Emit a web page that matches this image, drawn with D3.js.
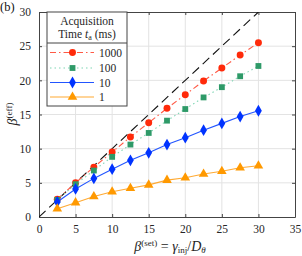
<!DOCTYPE html>
<html>
<head>
<meta charset="utf-8">
<script src="https://cdn.jsdelivr.net/npm/d3@7"></script>
<style>
  body { margin: 0; background: #fff; }
</style>
</head>
<body>
<script>
'use strict';

// beta(set) values, shared by every series
const betaSet = [2.5, 5, 7.5, 10, 12.5, 15, 17.5, 20, 22.5, 25, 27.5, 30];

// beta(eff), one per acquisition time
const eff1000 = [2.6, 5.0, 7.3, 9.5, 11.7, 13.8, 15.9, 17.9, 19.9, 21.8, 23.7, 25.5];
const eff100  = [2.5, 4.8, 6.8, 8.8, 10.6, 12.3, 14.1, 15.8, 17.5, 19.0, 20.6, 22.1];
const eff10   = [2.2, 4.1, 5.65, 7.0, 8.3, 9.4, 10.6, 11.6, 12.7, 13.7, 14.7, 15.55];
const eff1    = [1.2, 2.1, 3.0, 3.7, 4.2, 4.7, 5.4, 5.75, 6.3, 6.7, 7.2, 7.5];

const seriesNames = ['1000', '100', '10', '1'];
const xTicks = [0, 5, 10, 15, 20, 25, 30, 35];
const yTicks = [0, 5, 10, 15, 20, 25, 30];
const diagonal = [0, 30];

const serif = '"Liberation Serif", "Times New Roman", serif';
const width = 302, height = 256;
const margin = { left: 39, right: 7, top: 12, bottom: 39 };

const svg = d3.select('body').append('svg')
  .attr('width', width)
  .attr('height', height)
  .attr('font-family', serif);

const xScale = d3.scaleLinear().domain([0, 35]).range([margin.left, width - margin.right]);
const yScale = d3.scaleLinear().domain([0, 30]).range([height - margin.bottom, margin.top]);

// grid lines
svg.append('g').selectAll('line')
  .data(xTicks.slice(1, -1))
  .enter().append('line')
    .attr('x1', d => xScale(d)).attr('x2', d => xScale(d))
    .attr('y1', yScale(0)).attr('y2', yScale(30))
    .attr('stroke', '#e3e3e3').attr('stroke-width', 1);
svg.append('g').selectAll('line')
  .data(yTicks.slice(1, -1))
  .enter().append('line')
    .attr('y1', d => yScale(d)).attr('y2', d => yScale(d))
    .attr('x1', xScale(0)).attr('x2', xScale(35))
    .attr('stroke', '#e3e3e3').attr('stroke-width', 1);

// axes with ticks on all four sides, pointing inwards
const tickLen = 3;
function styleAxis(g) {
  g.attr('font-family', serif).attr('font-size', 11.5);
  g.selectAll('path').attr('stroke', '#444').attr('stroke-width', 1);
  g.selectAll('line').attr('stroke', '#444');
  g.selectAll('text').attr('fill', '#262626');
}

svg.append('g')
  .attr('transform', `translate(0,${yScale(0)})`)
  .call(d3.axisBottom(xScale).tickValues(xTicks).tickSize(-tickLen).tickPadding(8).tickSizeOuter(0))
  .call(styleAxis);
svg.append('g')
  .attr('transform', `translate(0,${yScale(30)})`)
  .call(d3.axisTop(xScale).tickValues(xTicks).tickSize(-tickLen).tickFormat('').tickSizeOuter(0))
  .call(styleAxis);
svg.append('g')
  .attr('transform', `translate(${xScale(0)},0)`)
  .call(d3.axisLeft(yScale).tickValues(yTicks).tickSize(-tickLen).tickPadding(8).tickSizeOuter(0))
  .call(styleAxis);
svg.append('g')
  .attr('transform', `translate(${xScale(35)},0)`)
  .call(d3.axisRight(yScale).tickValues(yTicks).tickSize(-tickLen).tickFormat('').tickSizeOuter(0))
  .call(styleAxis);

// clip to plot area
svg.append('clipPath').attr('id', 'plotclip')
  .append('rect')
    .attr('x', xScale(0)).attr('y', yScale(30))
    .attr('width', xScale(35) - xScale(0)).attr('height', yScale(0) - yScale(30));

const plot = svg.append('g').attr('clip-path', 'url(#plotclip)');

// y = x reference
plot.append('line')
  .attr('x1', xScale(diagonal[0])).attr('y1', yScale(diagonal[0]))
  .attr('x2', xScale(diagonal[1])).attr('y2', yScale(diagonal[1]))
  .attr('stroke', '#111').attr('stroke-width', 1.1)
  .attr('stroke-dasharray', '9,5');

const series = [
  { name: seriesNames[0], values: eff1000, line: '#ff5a46', marker: '#ff2a0a', dash: '6,3,1.5,3', shape: d3.symbolCircle, size: 38 },
  { name: seriesNames[1], values: eff100, line: '#7fd6b4', marker: '#2e9a68', dash: '1.5,3', shape: d3.symbolSquare, size: 34 },
  { name: seriesNames[2], values: eff10, line: '#2255ff', marker: '#0033ff', dash: null, shape: d3.symbolDiamond, size: 40 },
  { name: seriesNames[3], values: eff1, line: '#ffaa33', marker: '#ff9900', dash: null, shape: d3.symbolTriangle, size: 40 }
];

const line = d3.line()
  .x(d => xScale(d[0]))
  .y(d => yScale(d[1]));

series.forEach(s => {
  const pts = betaSet.map((b, i) => [b, s.values[i]]);
  plot.append('path')
    .datum(pts)
    .attr('fill', 'none')
    .attr('stroke', s.line)
    .attr('stroke-width', 1.1)
    .attr('stroke-dasharray', s.dash)
    .attr('d', line);
  plot.selectAll(null)
    .data(pts)
    .enter().append('path')
      .attr('d', d3.symbol().type(s.shape).size(s.size))
      .attr('transform', d => `translate(${xScale(d[0])},${yScale(d[1])})`)
      .attr('fill', s.marker);
});

// legend
const lg = svg.append('g').attr('fill', '#262626');
const lgX = 47, lgY = 12, lgW = 80, lgH = 94;
lg.append('rect')
  .attr('x', lgX).attr('y', lgY).attr('width', lgW).attr('height', lgH)
  .attr('fill', '#fff').attr('stroke', '#444').attr('stroke-width', 1);
lg.append('line')
  .attr('x1', lgX).attr('x2', lgX + lgW).attr('y1', 43).attr('y2', 43)
  .attr('stroke', '#444');
lg.append('text')
  .attr('x', lgX + lgW / 2).attr('y', 25)
  .attr('text-anchor', 'middle').attr('font-size', 11.5)
  .text('Acquisition');
const t2 = lg.append('text')
  .attr('x', lgX + lgW / 2).attr('y', 37.5)
  .attr('text-anchor', 'middle').attr('font-size', 11.5);
t2.append('tspan').text('Time ');
t2.append('tspan').attr('font-style', 'italic').text('t');
t2.append('tspan').attr('dy', 2).attr('font-size', 8).text('a');
t2.append('tspan').attr('dy', -2).text(' (ms)');

const rowY = [52.5, 68, 82.5, 97];
series.forEach((s, i) => {
  lg.append('line')
    .attr('x1', 50).attr('x2', 94).attr('y1', rowY[i]).attr('y2', rowY[i])
    .attr('stroke', s.line).attr('stroke-width', 1.1)
    .attr('stroke-dasharray', s.dash);
  lg.append('path')
    .attr('d', d3.symbol().type(s.shape).size(s.size))
    .attr('transform', `translate(72.5,${rowY[i]})`)
    .attr('fill', s.marker);
  lg.append('text')
    .attr('x', 99).attr('y', rowY[i] + 4)
    .attr('font-size', 11.5)
    .text(s.name);
});

// panel label
svg.append('text').attr('x', 0).attr('y', 11).attr('font-size', 12.5).attr('fill', '#111').text('(b)');

// y label: beta^(eff)
const yl = svg.append('text')
  .attr('transform', 'translate(17,114)rotate(-90)')
  .attr('text-anchor', 'middle')
  .attr('fill', '#262626')
  .attr('font-size', 14);
yl.append('tspan').attr('font-style', 'italic').text('β');
yl.append('tspan').attr('dy', -5).attr('font-size', 9).text('(eff)');

// x label: beta^(set) = gamma_inj / D_theta
const xl = svg.append('text')
  .attr('x', 170).attr('y', 251)
  .attr('text-anchor', 'middle')
  .attr('fill', '#262626')
  .attr('font-size', 14);
xl.append('tspan').attr('font-style', 'italic').text('β');
xl.append('tspan').attr('dy', -5).attr('font-size', 9).text('(set)');
xl.append('tspan').attr('dy', 5).text(' = ');
xl.append('tspan').attr('font-style', 'italic').text('γ');
xl.append('tspan').attr('dy', 2).attr('font-size', 9).text('inj');
xl.append('tspan').attr('dy', -2).text('/');
xl.append('tspan').attr('font-style', 'italic').text('D');
xl.append('tspan').attr('dy', 2).attr('font-size', 9).attr('font-style', 'italic').text('θ');
</script>
</body>
</html>
